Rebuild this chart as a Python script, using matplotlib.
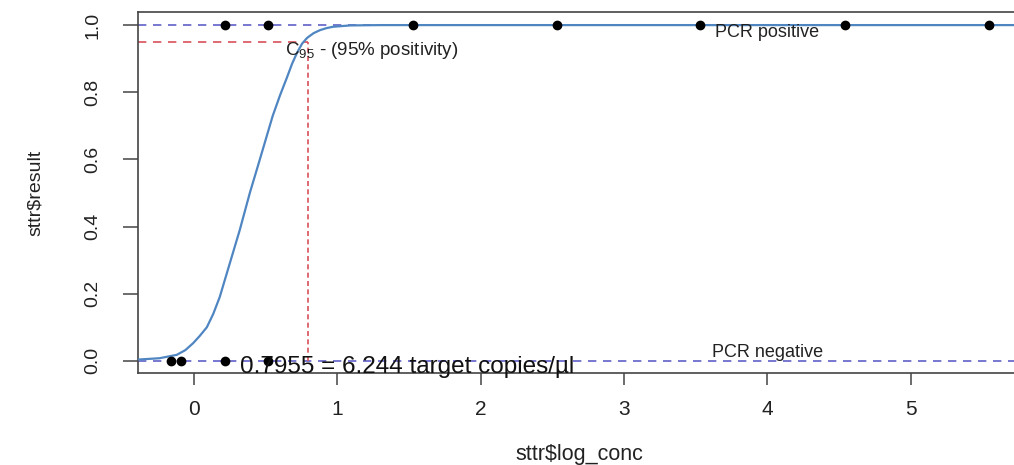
import numpy as np
import matplotlib
matplotlib.use("Agg")
import matplotlib.pyplot as plt

plt.rcParams['font.family'] = ['Liberation Sans', 'DejaVu Sans']
plt.rcParams['mathtext.fontset'] = 'custom'
plt.rcParams['mathtext.rm'] = 'Liberation Sans'
plt.rcParams['mathtext.it'] = 'Liberation Sans'

# observed PCR results (log10 concentration, 1 = positive, 0 = negative)
pos_x = [0.22, 0.52, 1.53, 2.53, 3.53, 4.54, 5.55]
neg_x = [-0.16, -0.09, 0.22, 0.52]

# fitted curve
curve_x = [-0.39, -0.24, -0.12, -0.06, -0.005, 0.04, 0.09, 0.135, 0.18, 0.25,
           0.32, 0.39, 0.46, 0.55, 0.60, 0.65, 0.685, 0.72, 0.755, 0.79,
           0.835, 0.88, 0.925, 0.97, 1.09, 1.3, 5.8]
curve_y = [0.004, 0.008, 0.018, 0.032, 0.053, 0.074, 0.10, 0.14, 0.19, 0.29,
           0.39, 0.50, 0.60, 0.73, 0.79, 0.845, 0.885, 0.918, 0.945, 0.962,
           0.976, 0.985, 0.991, 0.995, 0.999, 1.0, 1.0]

c95 = 0.7955
c95_copies = 6.244
p95 = 0.95

x_ticks = [0, 1, 2, 3, 4, 5]
y_ticks = [0.0, 0.2, 0.4, 0.6, 0.8, 1.0]

fig = plt.figure(figsize=(10.14, 4.65), dpi=100)
# plot box runs past the right edge of the picture (cropped screenshot)
ax = fig.add_axes([138 / 1014, 1 - 373 / 465, 883 / 1014, 361 / 465])
ax.set_xlim(-0.39, 5.77)
ax.set_ylim(-0.036, 1.039)

ax.plot(curve_x, curve_y, color="#4f86c2", lw=1.6, zorder=3)
ax.axhline(1, color="#6060c8", lw=1.2, ls=(0, (5, 4)), zorder=2)
ax.axhline(0, color="#6060c8", lw=1.2, ls=(0, (5, 4)), zorder=2)
ax.plot([-0.39, c95], [p95, p95], color="#d9505a", lw=1.2, ls=(0, (5, 4)), zorder=2)
ax.plot([c95, c95], [0, p95], color="#d9505a", lw=1.2, ls=(0, (3, 2)), zorder=2)

ax.plot(pos_x, [1] * len(pos_x), "o", color="black", ms=6, zorder=4)
ax.plot(neg_x, [0] * len(neg_x), "o", color="black", ms=6, zorder=4)

ax.text(c95 - 0.16, 0.912, r"C$_{95}$ - (95% positivity)", fontsize=13.5,
        color="#222222", ha="left", va="baseline")
ax.text(4.0, 0.964, "PCR positive", fontsize=13, color="#222222",
        ha="center", va="baseline")
ax.text(4.0, 0.012, "PCR negative", fontsize=13, color="#222222",
        ha="center", va="baseline")
ax.text(1.49, -0.035, f"{c95} = {c95_copies} target copies/µl", fontsize=17.5,
        color="#111111", ha="center", va="baseline", zorder=5)

for s in ax.spines.values():
    s.set_color("#444444")
    s.set_linewidth(1.2)

ax.set_xticks(x_ticks)
ax.set_xticklabels([str(v) for v in x_ticks])
ax.set_yticks(y_ticks)
ax.set_yticklabels([f"{v:.1f}" for v in y_ticks], rotation=90, va="center")
ax.tick_params(axis="x", length=8.5, width=1.1, color="#444444", pad=11,
               labelsize=15, labelcolor="#222222")
ax.tick_params(axis="y", length=10.5, width=1.1, color="#444444", pad=16,
               labelsize=14, labelcolor="#222222")

ax.set_xlabel("sttr$log_conc", fontsize=15.5, color="#222222")
ax.xaxis.label.set_va("center")
ax.xaxis.set_label_coords(0.5, -0.227)
ax.set_ylabel("sttr$result", fontsize=14, color="#222222")
ax.yaxis.label.set_va("center")
ax.yaxis.set_label_coords(-0.1165, 0.5)

fig.savefig("out.png", dpi=100)
